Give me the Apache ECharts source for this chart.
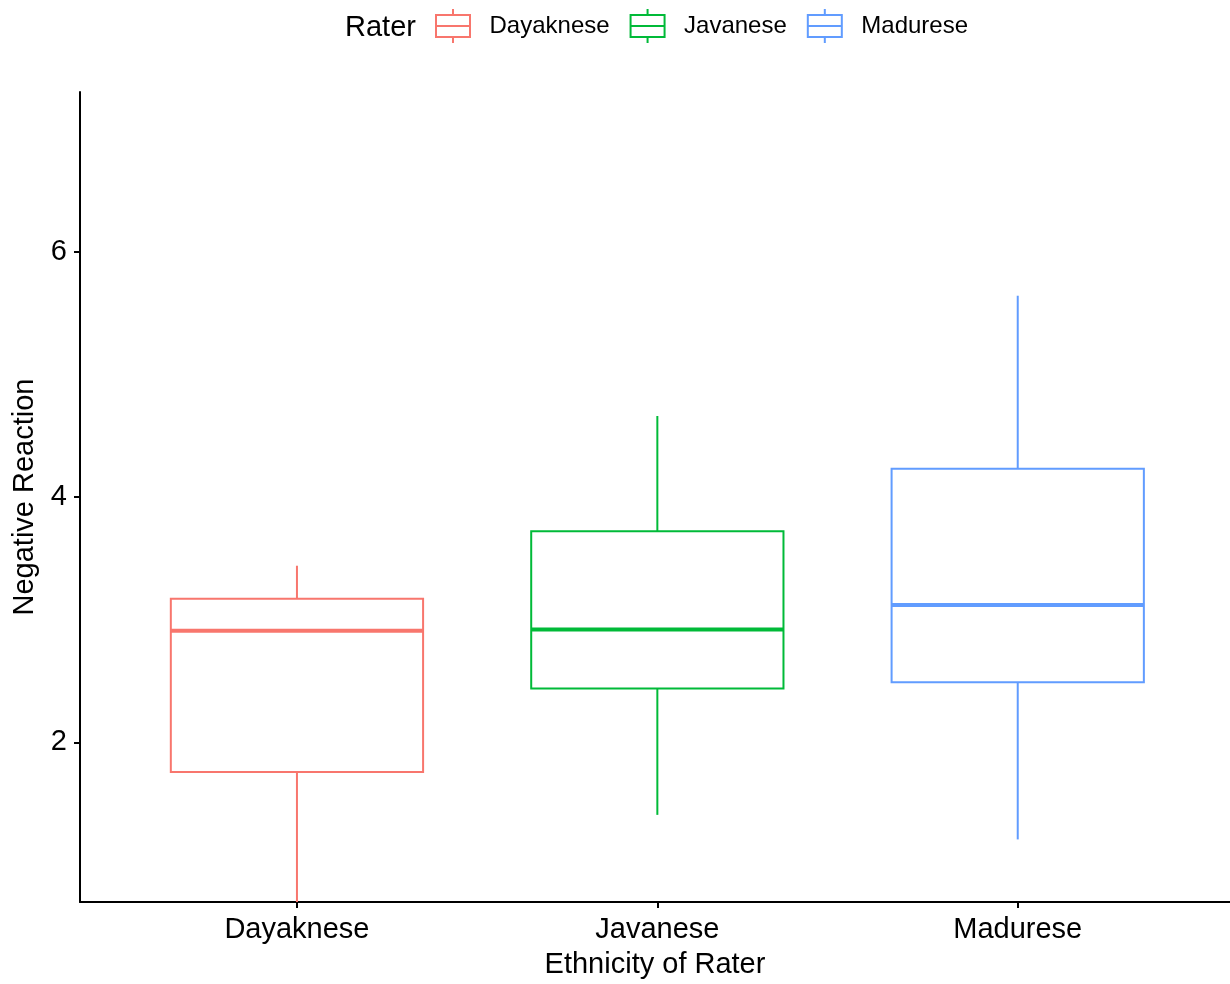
<!DOCTYPE html>
<html>
<head>
<meta charset="utf-8">
<script src="https://cdn.jsdelivr.net/npm/echarts@6/dist/echarts.min.js"></script>
<style>
  html, body { margin: 0; padding: 0; background: #fff; }
  #chart { width: 1230px; height: 984px; }
</style>
</head>
<body>
<div id="chart"></div>
<script>
// 평가자 민족별 부정 반응 (boxplot)
const raters = ['Dayaknese', 'Javanese', 'Madurese'];
const raterColors = ['#F8766D', '#00BA38', '#619CFF'];
const whiskerLow = [0.68, 1.41, 1.21];
const quartile1 = [1.76, 2.44, 2.49];
const medians = [2.91, 2.92, 3.12];
const quartile3 = [3.17, 3.72, 4.23];
const whiskerHigh = [3.44, 4.66, 5.64];
const yTicks = [2, 4, 6];
const xTicks = [1, 2, 3];

const FONT = "'Liberation Sans', Arial, sans-serif";
const BOX_WIDTH = 0.7;

const chart = echarts.init(document.getElementById('chart'));

const renderBox = (params, api) => {
  const x = api.value(0);
  const lo = api.coord([x, api.value(1)]);
  const q1 = api.coord([x, api.value(2)]);
  const med = api.coord([x, api.value(3)]);
  const q3 = api.coord([x, api.value(4)]);
  const hi = api.coord([x, api.value(5)]);
  const half = api.size([BOX_WIDTH, 0])[0] / 2;
  const color = api.visual('color');
  const style = { stroke: color, lineWidth: 2, fill: null };
  return {
    type: 'group',
    children: [
      { type: 'line', shape: { x1: hi[0], y1: hi[1], x2: q3[0], y2: q3[1] }, style },
      { type: 'line', shape: { x1: q1[0], y1: q1[1], x2: lo[0], y2: lo[1] }, style },
      { type: 'rect', shape: { x: q3[0] - half, y: q3[1], width: half * 2, height: q1[1] - q3[1] }, style },
      { type: 'line', shape: { x1: med[0] - half, y1: med[1], x2: med[0] + half, y2: med[1] },
        style: { stroke: color, lineWidth: 4 } },
    ],
  };
};

// 범례 아이콘: 작은 박스플롯 모양
const boxIcon = 'path://M17,0 L17,6 M0,6 L34,6 L34,28 L0,28 Z M0,17 L34,17 M17,28 L17,34';

const option = {
  animation: false,
  textStyle: { fontFamily: FONT },
  title: {
    text: 'Rater',
    left: 340,
    top: 8,
    textStyle: { fontFamily: FONT, fontSize: 29, fontWeight: 'normal', color: '#000' },
  },
  legend: {
    left: 430,
    top: 3,
    itemWidth: 35,
    itemHeight: 34,
    itemGap: 20,
    textStyle: { fontFamily: FONT, fontSize: 24, color: '#000', padding: [0, 0, 0, 14] },
    data: raters.map((name, i) => ({
      name,
      icon: boxIcon,
      itemStyle: { color: 'rgba(0,0,0,0)', borderColor: raterColors[i], borderWidth: 2 },
    })),
  },
  grid: { left: 80, right: 0, top: 92, bottom: 79, containLabel: false },
  xAxis: {
    type: 'value',
    min: 0.398,
    max: 3.589,
    name: 'Ethnicity of Rater',
    nameLocation: 'middle',
    nameGap: 48,
    nameTextStyle: { fontFamily: FONT, fontSize: 29, color: '#000' },
    splitLine: { show: false },
    axisLine: { show: true, lineStyle: { color: '#000', width: 2 } },
    axisTick: { show: true, customValues: xTicks, length: 6, lineStyle: { color: '#000', width: 2 } },
    axisLabel: {
      customValues: xTicks,
      formatter: (v) => raters[Math.round(v) - 1],
      fontFamily: FONT, fontSize: 29, color: '#000', margin: 13,
    },
  },
  yAxis: {
    type: 'value',
    min: 0.7,
    max: 7.3,
    name: 'Negative Reaction',
    nameLocation: 'middle',
    nameGap: 36,
    nameRotate: 90,
    nameTextStyle: { fontFamily: FONT, fontSize: 29, color: '#000' },
    splitLine: { show: false },
    axisLine: { show: true, lineStyle: { color: '#000', width: 2 } },
    axisTick: { show: true, customValues: yTicks, length: 6, lineStyle: { color: '#000', width: 2 } },
    axisLabel: { customValues: yTicks, fontFamily: FONT, fontSize: 29, color: '#000', margin: 13 },
  },
  series: raters.map((name, i) => ({
    name,
    type: 'custom',
    clip: true,
    itemStyle: { color: raterColors[i] },
    encode: { x: 0, y: [1, 2, 3, 4, 5] },
    renderItem: renderBox,
    data: [[xTicks[i], whiskerLow[i], quartile1[i], medians[i], quartile3[i], whiskerHigh[i]]],
  })),
};

chart.setOption(option);
</script>
</body>
</html>
